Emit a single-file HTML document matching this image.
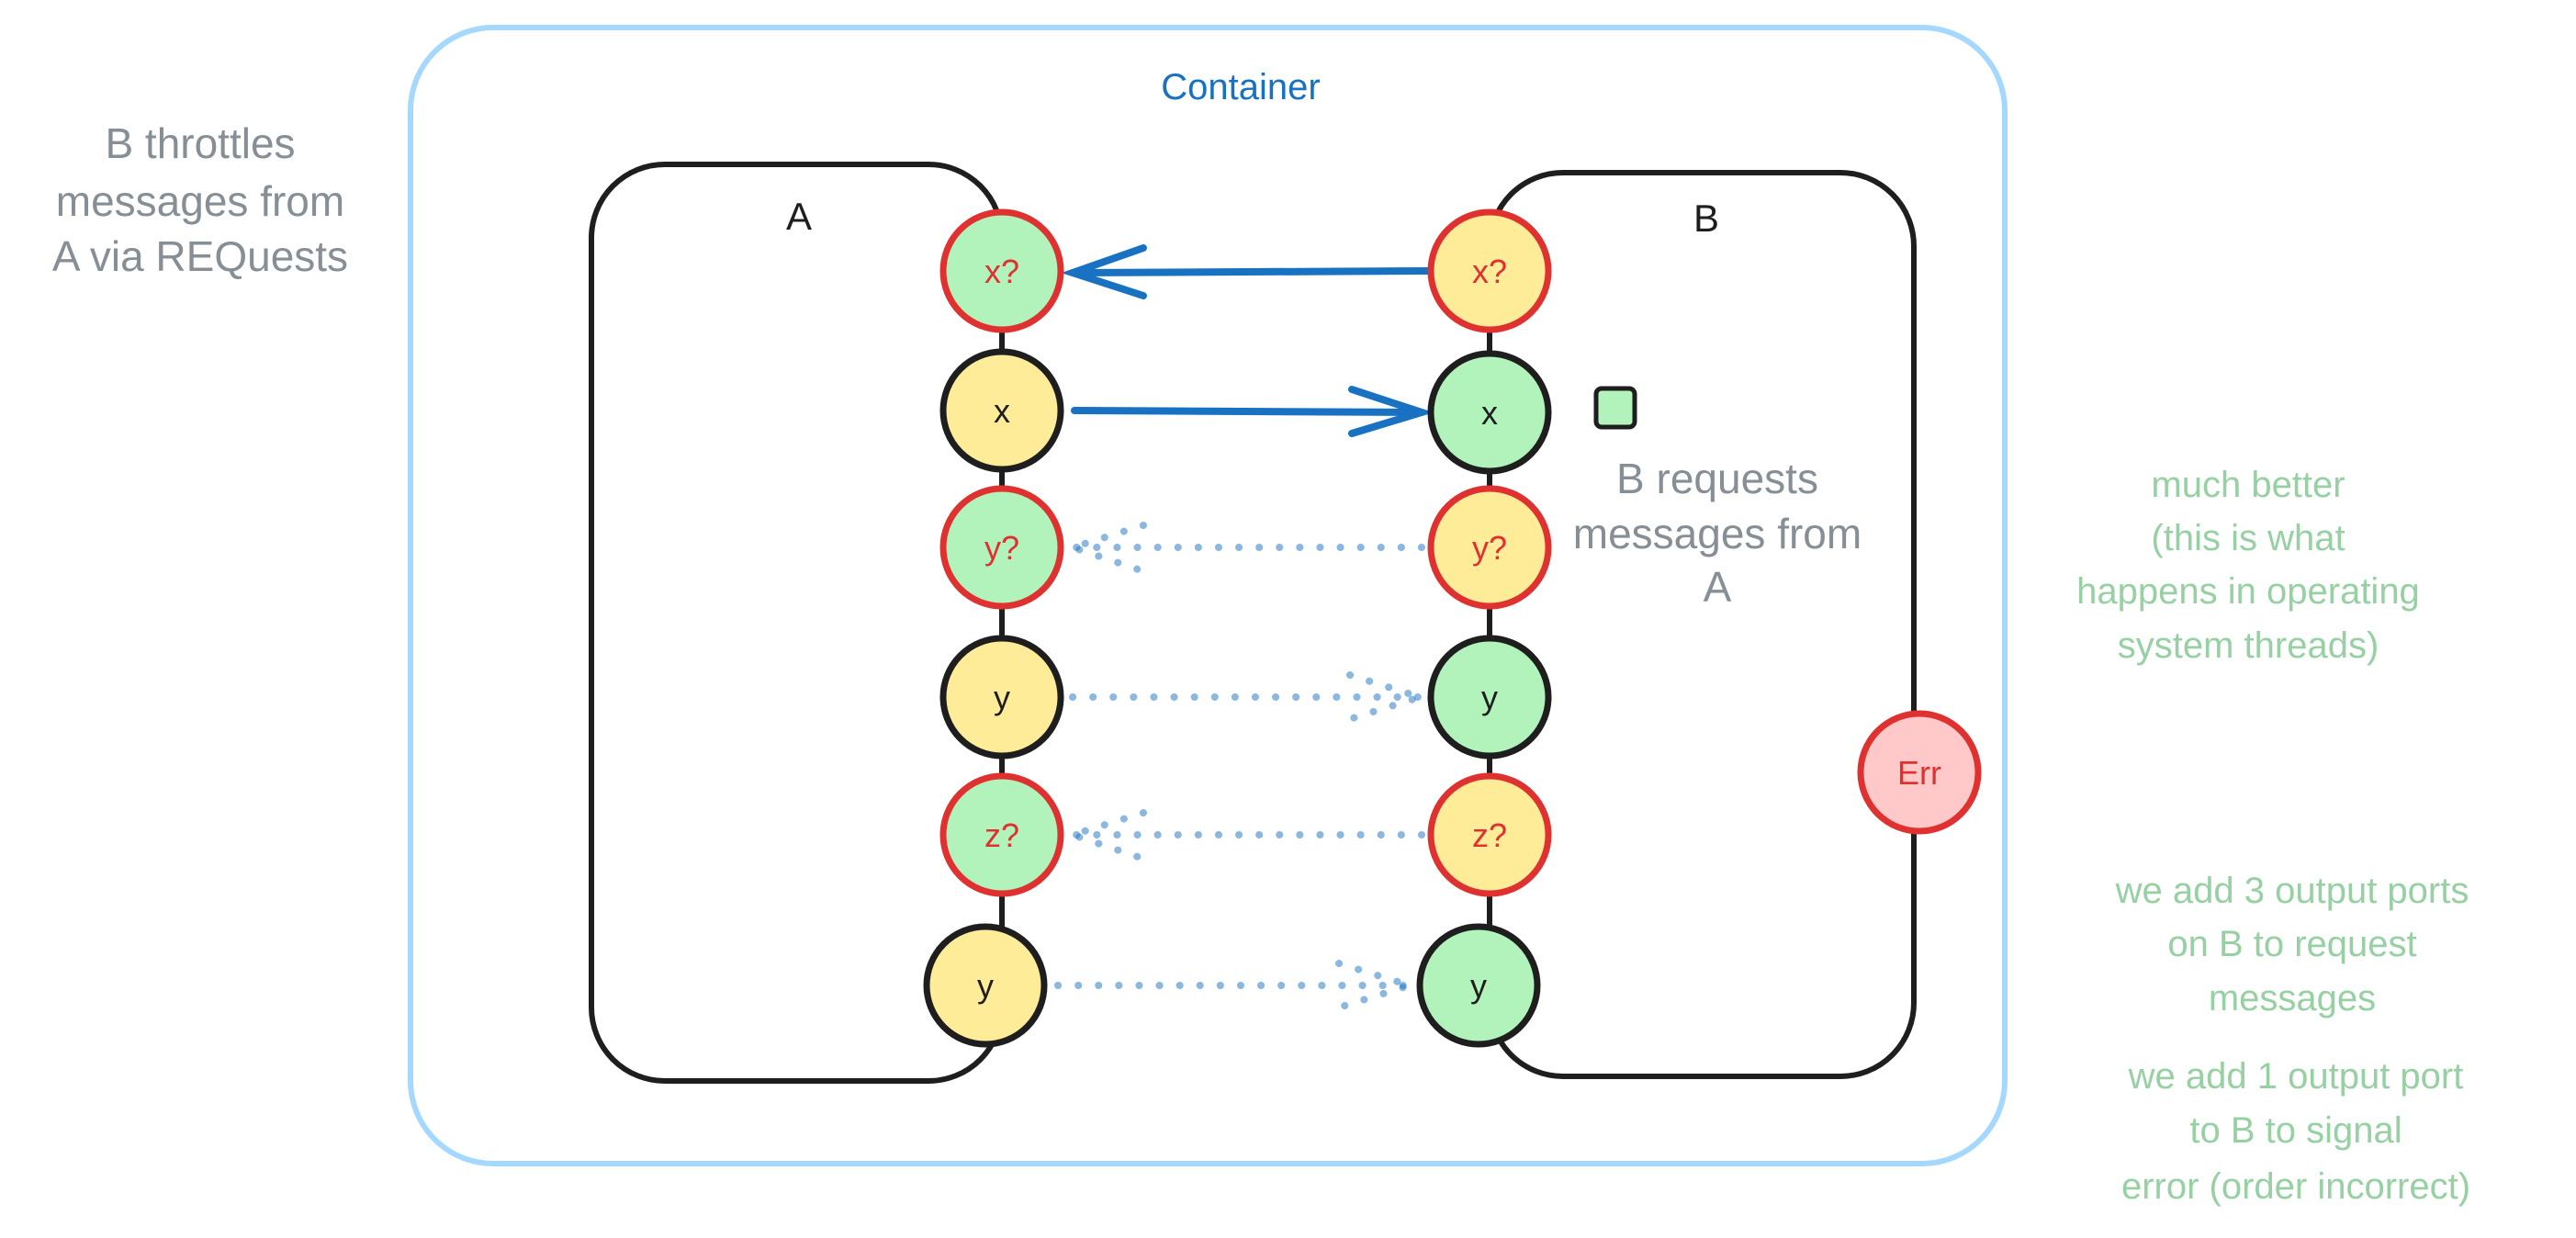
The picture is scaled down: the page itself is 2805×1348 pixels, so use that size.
<!DOCTYPE html>
<html><head><meta charset="utf-8"><style>
html,body{margin:0;padding:0;background:#fff;}
svg{display:block;}
text{font-family:"Liberation Sans",sans-serif;}
</style></head><body>
<svg width="2805" height="1348" viewBox="0 0 2805 1348" xmlns="http://www.w3.org/2000/svg">
<rect x="447" y="30" width="1736" height="1237" rx="90" fill="none" stroke="#a5d8ff" stroke-width="6"/>
<text x="1351" y="108" font-size="40" fill="#1971c2" text-anchor="middle">Container</text>

<g font-size="46" fill="#868e96" text-anchor="middle">
<text x="218" y="172">B throttles</text>
<text x="218" y="235">messages from</text>
<text x="218" y="295">A via REQuests</text>
</g>

<!-- boxes -->
<rect x="644" y="179" width="447" height="998" rx="80" fill="none" stroke="#1e1e1e" stroke-width="6"/>
<rect x="1622" y="188" width="462" height="984" rx="80" fill="none" stroke="#1e1e1e" stroke-width="6"/>
<text x="870" y="250" font-size="42" fill="#1e1e1e" text-anchor="middle">A</text>
<text x="1858" y="252" font-size="42" fill="#1e1e1e" text-anchor="middle">B</text>

<!-- arrows -->
<g stroke="#1971c2" stroke-width="8" stroke-linecap="round" fill="none">
<line x1="1555" y1="295" x2="1168" y2="297"/>
<polyline points="1245,270 1168,297 1245,322"/>
<line x1="1170" y1="447" x2="1548" y2="449"/>
<polyline points="1472,424 1548,449 1472,472"/>
</g>
<g stroke="#1971c2" stroke-opacity="0.5" stroke-width="8" stroke-linecap="round" fill="none" stroke-dasharray="0.1 22">
<line x1="1548" y1="596" x2="1168" y2="596"/>
<polyline points="1245,572 1168,596 1245,622"/>
<line x1="1168" y1="759" x2="1546" y2="759"/>
<polyline points="1470,735 1546,759 1470,783"/>
<line x1="1548" y1="909" x2="1168" y2="909"/>
<polyline points="1245,885 1168,909 1245,935"/>
<line x1="1152" y1="1073" x2="1535" y2="1073"/>
<polyline points="1458,1049 1535,1073 1458,1097"/>
</g>

<!-- circles -->
<g stroke-width="7">
<circle cx="1091" cy="295" r="64" fill="#b2f2bb" stroke="#e03131"/>
<circle cx="1091" cy="447" r="64" fill="#ffec99" stroke="#1e1e1e"/>
<circle cx="1091" cy="596" r="64" fill="#b2f2bb" stroke="#e03131"/>
<circle cx="1091" cy="759" r="64" fill="#ffec99" stroke="#1e1e1e"/>
<circle cx="1091" cy="909" r="64" fill="#b2f2bb" stroke="#e03131"/>
<circle cx="1073" cy="1073" r="64" fill="#ffec99" stroke="#1e1e1e"/>
<circle cx="1622" cy="295" r="64" fill="#ffec99" stroke="#e03131"/>
<circle cx="1622" cy="449" r="64" fill="#b2f2bb" stroke="#1e1e1e"/>
<circle cx="1622" cy="596" r="64" fill="#ffec99" stroke="#e03131"/>
<circle cx="1622" cy="759" r="64" fill="#b2f2bb" stroke="#1e1e1e"/>
<circle cx="1622" cy="909" r="64" fill="#ffec99" stroke="#e03131"/>
<circle cx="1610" cy="1073" r="64" fill="#b2f2bb" stroke="#1e1e1e"/>
<circle cx="2090" cy="841" r="64" fill="#ffc9c9" stroke="#e03131"/>
</g>
<g font-size="36" text-anchor="middle">
<text x="1091" y="308" fill="#e03131">x?</text>
<text x="1091" y="460" fill="#1e1e1e">x</text>
<text x="1091" y="609" fill="#e03131">y?</text>
<text x="1091" y="772" fill="#1e1e1e">y</text>
<text x="1091" y="922" fill="#e03131">z?</text>
<text x="1073" y="1086" fill="#1e1e1e">y</text>
<text x="1622" y="308" fill="#e03131">x?</text>
<text x="1622" y="462" fill="#1e1e1e">x</text>
<text x="1622" y="609" fill="#e03131">y?</text>
<text x="1622" y="772" fill="#1e1e1e">y</text>
<text x="1622" y="922" fill="#e03131">z?</text>
<text x="1610" y="1086" fill="#1e1e1e">y</text>
<text x="2090" y="854" fill="#e03131">Err</text>
</g>

<rect x="1738" y="423" width="42" height="42" rx="6" fill="#b2f2bb" stroke="#1e1e1e" stroke-width="5"/>
<g font-size="46" fill="#868e96" text-anchor="middle">
<text x="1870" y="537">B requests</text>
<text x="1870" y="597">messages from</text>
<text x="1870" y="655">A</text>
</g>

<g font-size="40" fill="#97d0a3" text-anchor="middle">
<text x="2448" y="541">much better</text>
<text x="2448" y="599">(this is what</text>
<text x="2448" y="657">happens in operating</text>
<text x="2448" y="716">system threads)</text>
<text x="2496" y="983">we add 3 output ports</text>
<text x="2496" y="1041">on B to request</text>
<text x="2496" y="1100">messages</text>
<text x="2500" y="1185">we add 1 output port</text>
<text x="2500" y="1244">to B to signal</text>
<text x="2500" y="1305">error (order incorrect)</text>
</g>
</svg>
</body></html>
